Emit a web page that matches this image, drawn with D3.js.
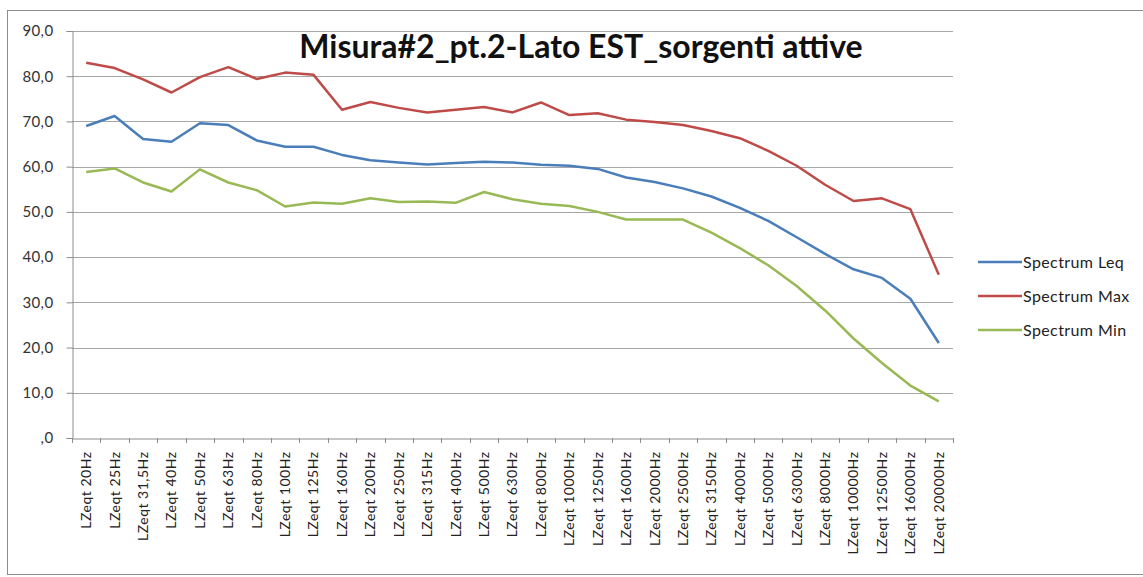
<!DOCTYPE html>
<html>
<head>
<meta charset="utf-8">
<script src="https://cdn.jsdelivr.net/npm/d3@7"></script>
<style>
  body { margin: 0; background: #fff; }
  text { font-family: Lato, "Open Sans", sans-serif; }
</style>
</head>
<body>
<div id="container"></div>
<script>
const freqs = ["20Hz", "25Hz", "31,5Hz", "40Hz", "50Hz", "63Hz", "80Hz", "100Hz", "125Hz", "160Hz",
    "200Hz", "250Hz", "315Hz", "400Hz", "500Hz", "630Hz", "800Hz", "1000Hz", "1250Hz", "1600Hz",
    "2000Hz", "2500Hz", "3150Hz", "4000Hz", "5000Hz", "6300Hz", "8000Hz", "10000Hz", "12500Hz",
    "16000Hz", "20000Hz"];
const categories = freqs.map(f => "LZeqt " + f);

const leq = [69.0, 71.2, 66.1, 65.5, 69.6, 69.2, 65.8, 64.4, 64.4, 62.6, 61.4, 60.9, 60.5, 60.8,
    61.1, 60.9, 60.4, 60.2, 59.5, 57.6, 56.6, 55.2, 53.4, 50.9, 48.0, 44.4, 40.7, 37.3, 35.4, 30.8, 21.0];
const max = [83.0, 81.8, 79.3, 76.4, 79.8, 82.0, 79.4, 80.8, 80.3, 72.6, 74.3, 73.0, 72.0, 72.6,
    73.2, 72.0, 74.2, 71.4, 71.8, 70.4, 69.9, 69.2, 67.9, 66.3, 63.5, 60.2, 56.0, 52.4, 53.0, 50.6, 36.1];
const min = [58.8, 59.6, 56.5, 54.5, 59.4, 56.5, 54.8, 51.2, 52.1, 51.8, 53.0, 52.2, 52.3, 52.0,
    54.4, 52.8, 51.8, 51.3, 50.0, 48.3, 48.3, 48.3, 45.4, 42.0, 38.2, 33.6, 28.2, 22.0, 16.6, 11.6, 8.1];

const series = [
    { name: "Spectrum Leq", values: leq, color: "#4a7ebb" },
    { name: "Spectrum Max", values: max, color: "#be4b48" },
    { name: "Spectrum Min", values: min, color: "#98b954" }
];
const yTicks = [0, 10, 20, 30, 40, 50, 60, 70, 80, 90];

const width = 1143,
    height = 577,
    margin = { top: 31, bottom: 139, left: 72, right: 190 };

const svg = d3.select("#container").append("svg")
    .attr("width", width)
    .attr("height", height);

// outer chart border
svg.append("rect")
    .attr("x", 7.5).attr("y", 10.5)
    .attr("width", width).attr("height", 564)
    .attr("fill", "none")
    .attr("stroke", "#8c8c8c");

const x = d3.scaleBand()
    .domain(categories)
    .range([margin.left, width - margin.right]);

const y = d3.scaleLinear()
    .domain([0, 90])
    .range([height - margin.bottom, margin.top]);

// gridlines
svg.append("g")
    .selectAll("line")
    .data(yTicks.slice(1))
    .join("line")
    .attr("x1", margin.left).attr("x2", width - margin.right)
    .attr("y1", d => Math.round(y(d)) + 0.5).attr("y2", d => Math.round(y(d)) + 0.5)
    .attr("stroke", "#a6a6a6");

// y axis
const yAxis = svg.append("g")
    .attr("transform", `translate(${margin.left + 0.5}, 0)`)
    .call(d3.axisLeft(y).tickValues(yTicks).tickSize(6)
        .tickFormat(d => d === 0 ? ",0" : d3.format(".1f")(d).replace(".", ",")));
yAxis.select(".domain").attr("stroke", "#8c8c8c");
yAxis.selectAll(".tick line").attr("stroke", "#8c8c8c");
yAxis.selectAll("text")
    .attr("x", -19)
    .style("font-size", "15px")
    .style("letter-spacing", "0.4px")
    .attr("fill", "#333");

// x axis
const xAxis = svg.append("g")
    .attr("transform", `translate(0, ${Math.round(y(0)) + 0.5})`)
    .call(d3.axisBottom(x).tickSize(0));
xAxis.select(".domain").attr("stroke", "#8c8c8c");
xAxis.selectAll("text")
    .attr("transform", "rotate(-90)")
    .attr("x", -13)
    .attr("y", 0)
    .attr("dy", "0.35em")
    .style("text-anchor", "end")
    .style("font-size", "14px")
    .style("letter-spacing", "0.5px")
    .attr("fill", "#222");

// category boundary ticks
svg.append("g")
    .selectAll("line")
    .data(categories.concat([null]))
    .join("line")
    .attr("x1", (d, i) => Math.round(margin.left + i * x.step()) + 0.5)
    .attr("x2", (d, i) => Math.round(margin.left + i * x.step()) + 0.5)
    .attr("y1", y(0)).attr("y2", y(0) + 5)
    .attr("stroke", "#8c8c8c");

// lines
const line = d3.line()
    .x((d, i) => x(categories[i]) + x.bandwidth() / 2)
    .y(d => y(d));

svg.append("g")
    .selectAll("path")
    .data(series)
    .join("path")
    .attr("d", d => line(d.values))
    .attr("fill", "none")
    .attr("stroke", d => d.color)
    .attr("stroke-width", 2.5)
    .attr("stroke-linejoin", "round");

// title
svg.append("text")
    .attr("x", 581)
    .attr("y", 58)
    .attr("text-anchor", "middle")
    .style("font-size", "32px")
    .style("font-weight", "bold")
    .attr("fill", "#111")
    .text("Misura#2_pt.2-Lato EST_sorgenti attive");

// legend
const legend = svg.append("g")
    .selectAll("g")
    .data(series)
    .join("g")
    .attr("transform", (d, i) => `translate(978, ${262 + i * 34})`);

legend.append("line")
    .attr("x1", 0).attr("x2", 44)
    .attr("stroke", d => d.color)
    .attr("stroke-width", 2.5);

legend.append("text")
    .attr("x", 45)
    .attr("dy", "0.35em")
    .style("font-size", "16px")
    .style("letter-spacing", "0.4px")
    .attr("fill", "#222")
    .text(d => d.name);
</script>
</body>
</html>
